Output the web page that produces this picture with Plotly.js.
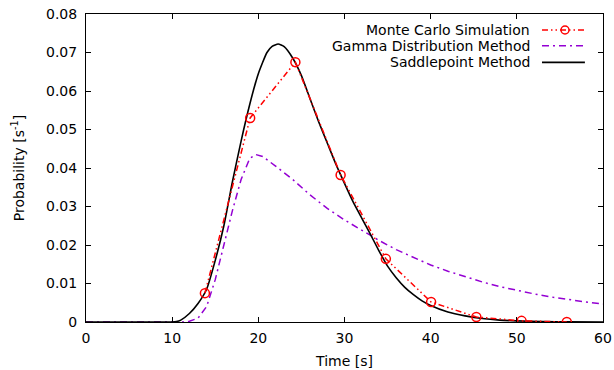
<!DOCTYPE html>
<html>
<head>
<meta charset="utf-8">
<script src="https://cdn.plot.ly/plotly-3.0.1.min.js"></script>
<style>html,body{margin:0;padding:0;background:#fff}#chart{width:614px;height:370px}</style>
</head>
<body>
<div id="chart"></div>
<script>
// Monte Carlo simulation samples
const mcTime = [13.8, 19.05, 24.3, 29.55, 34.8, 40.05, 45.3, 50.55, 55.8];
const mcProb = [0.0075, 0.0530, 0.0675, 0.0382, 0.0164, 0.0052, 0.0013, 0.0003, 0.0000];

// Gamma distribution method
const gammaTime = [0, 11, 11.5, 12, 13, 14, 15, 16, 17, 18, 19, 19.7, 20.5, 22, 24, 26, 28, 30, 32, 34, 36, 38, 40, 42, 44, 46, 48, 50, 52, 54, 56, 58, 60];
const gammaProb = [0, 0, 0, 0.0002, 0.0010, 0.0040, 0.0110, 0.0200, 0.0290, 0.0370, 0.0425, 0.0435, 0.0430, 0.0405, 0.0370, 0.0330, 0.0295, 0.0265, 0.0238, 0.0212, 0.0188, 0.0167, 0.0148, 0.0132, 0.0117, 0.0104, 0.0092, 0.0082, 0.0073, 0.0065, 0.0058, 0.0052, 0.0047];

// Saddlepoint method
const sadTime = [0, 10, 10.5, 11, 12, 13, 14, 15, 16, 17, 18, 19, 20, 21, 21.6, 22.3, 23, 24, 25, 26, 27, 28, 29, 30, 31, 32, 33, 34, 35, 36, 37, 38, 39, 40, 42, 44, 46, 48, 50, 53, 56, 60];
const sadProb = [0, 0, 0.0001, 0.0005, 0.0022, 0.0048, 0.0085, 0.0160, 0.0250, 0.0365, 0.0470, 0.0565, 0.0645, 0.0700, 0.0716, 0.0722, 0.0715, 0.0685, 0.0640, 0.0580, 0.0520, 0.0465, 0.0410, 0.0360, 0.0312, 0.0270, 0.0228, 0.0185, 0.0145, 0.0115, 0.0090, 0.0071, 0.0055, 0.0043, 0.0026, 0.0016, 0.0009, 0.0005, 0.0003, 0.0001, 0.00005, 0];

// Axis ticks
const xTicks = [0, 10, 20, 30, 40, 50, 60];
const yTicks = [0, 0.01, 0.02, 0.03, 0.04, 0.05, 0.06, 0.07, 0.08];
const yTickText = ['0', '0.01', '0.02', '0.03', '0.04', '0.05', '0.06', '0.07', '0.08'];

// Legend labels
const legendNames = ['Monte Carlo Simulation', 'Gamma Distribution Method', 'Saddlepoint Method'];

const RED = '#ff0000';
const VIOLET = '#9400d3';
const MC_DASH = '6px,3px,1.5px,3px,1.5px,3px';
const G_DASH = '7px,4px,2px,4px';

const traces = [
  {x: gammaTime, y: gammaProb, mode: 'lines', line: {color: VIOLET, width: 1.5, dash: G_DASH}, showlegend: false},
  {x: sadTime, y: sadProb, mode: 'lines', line: {color: '#000', width: 1.6, shape: 'spline', smoothing: 0.5}, showlegend: false},
  {x: mcTime, y: mcProb, mode: 'lines+markers', line: {color: RED, width: 1.5, dash: MC_DASH},
   marker: {symbol: 'circle-open', size: 9, color: RED, line: {width: 1.5, color: RED}}, showlegend: false}
];

const font = {family: 'DejaVu Sans, sans-serif', size: 14, color: '#000'};
const rowY = [0.948, 0.897, 0.843];
const annotations = legendNames.map((t, i) => ({
  text: t, xref: 'paper', yref: 'paper', x: 0.8627, y: rowY[i], xanchor: 'right', yanchor: 'middle',
  showarrow: false, font: font
}));
const lx0 = 0.882, lx1 = 0.965;
const shapes = [
  {type: 'line', xref: 'paper', yref: 'paper', x0: lx0, x1: lx1, y0: rowY[0], y1: rowY[0], line: {color: RED, width: 1.5, dash: MC_DASH}},
  {type: 'circle', xref: 'paper', yref: 'paper', xsizemode: 'pixel', ysizemode: 'pixel', xanchor: 0.9265, yanchor: rowY[0],
   x0: -4, x1: 4, y0: -4, y1: 4, line: {color: RED, width: 1.5}, fillcolor: 'rgba(0,0,0,0)'},
  {type: 'line', xref: 'paper', yref: 'paper', x0: lx0, x1: lx1, y0: rowY[1], y1: rowY[1], line: {color: VIOLET, width: 1.5, dash: G_DASH}},
  {type: 'line', xref: 'paper', yref: 'paper', x0: lx0, x1: lx1, y0: rowY[2], y1: rowY[2], line: {color: '#000', width: 1.6}}
];

const layout = {
  width: 614, height: 370,
  margin: {l: 86, r: 11, t: 14, b: 48},
  paper_bgcolor: '#fff', plot_bgcolor: '#fff',
  font: font,
  showlegend: false,
  xaxis: {
    range: [0, 60], tickvals: xTicks, ticktext: xTicks.map(String),
    ticks: 'inside', ticklen: 5, tickcolor: '#000', showline: true, linecolor: '#000', linewidth: 1,
    mirror: 'allticks', showgrid: false, zeroline: false, ticklabelstandoff: 3,
    title: {text: 'Time [s]', font: font, standoff: 11}
  },
  yaxis: {
    range: [0, 0.08], tickvals: yTicks, ticktext: yTickText,
    ticks: 'inside', ticklen: 5, tickcolor: '#000', showline: true, linecolor: '#000', linewidth: 1,
    mirror: 'allticks', showgrid: false, zeroline: false, ticklabelstandoff: 5,
    title: {text: 'Probability [s<sup>-1</sup>]', font: font, standoff: 18}
  },
  annotations: annotations,
  shapes: shapes
};

Plotly.newPlot('chart', traces, layout, {displayModeBar: false, staticPlot: true});
</script>
</body>
</html>
